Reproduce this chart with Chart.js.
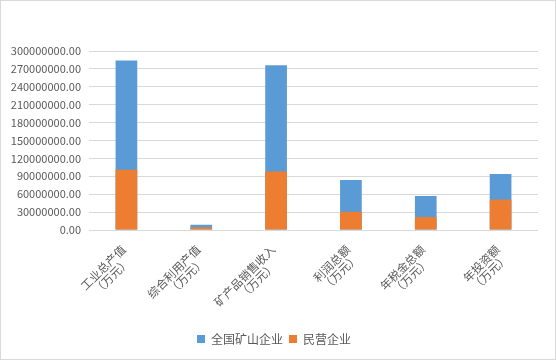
<!DOCTYPE html>
<html>
<head>
<meta charset="utf-8">
<script src="https://cdn.jsdelivr.net/npm/chart.js@4.4.0/dist/chart.umd.min.js"></script>
<style>
  html, body { margin: 0; padding: 0; background: #fff; }
  #wrap { position: relative; width: 554px; height: 358px; border: 1px solid #d9d9d9; }
</style>
</head>
<body>
<div id="wrap"><canvas id="chart"></canvas></div>
<script>
// categories (name + unit line)
const categories = ["工业总产值", "综合利用产值", "矿产品销售收入", "利润总额", "年税金总额", "年投资额"]
const unit = "（万元）"
// values
const allMines = [284000000, 8800000, 276000000, 84000000, 57000000, 94000000]
const privateFirms = [101000000, 4500000, 98000000, 30500000, 21700000, 51000000]

const yMax = 300000000
const yStep = 30000000

const fontFam = "'Noto Sans CJK SC', 'Noto Sans', sans-serif"

// two-line label, second line padded so it sits centred under the first
function twoLines(name) {
  let n = name.length - unit.length
  let pad = ""
  for (let i = 0; i < Math.floor(n / 2); i++) pad += "\u3000"
  if (n % 2 === 1) pad += "\u2002"
  return [name, unit + pad]
}

new Chart(document.getElementById("chart"), {
  type: 'bar',
  data: {
    labels: categories.map(twoLines),
    datasets: [{
      label: "全国矿山企业",
      data: allMines,
      backgroundColor: "#5b9bd5",
      order: 1,
      categoryPercentage: 0.29,
      barPercentage: 1
    }, {
      label: "民营企业",
      data: privateFirms,
      backgroundColor: "#ed7d31",
      order: 0,
      categoryPercentage: 0.29,
      barPercentage: 1
    }]
  },
  options: {
    responsive: true,
    maintainAspectRatio: false,
    animation: false,
    layout: { padding: { top: 50, right: 17, bottom: 4, left: 9 } },
    plugins: {
      tooltip: { enabled: false },
      legend: {
        position: 'bottom',
        reverse: true,
        labels: {
          boxWidth: 8,
          boxHeight: 8,
          color: '#595959',
          font: { family: fontFam, size: 12 },
          padding: 6
        }
      }
    },
    scales: {
      x: {
        stacked: true,
        grid: { display: false },
        border: { display: false },
        ticks: {
          color: '#595959',
          font: { family: fontFam, size: 11.5, lineHeight: 1.05 },
          maxRotation: 45,
          minRotation: 45,
          padding: 5,
          labelOffset: -3,
          autoSkip: false
        },
        afterFit: function(scale) { scale.height = 97 }
      },
      y: {
        stacked: false,
        min: 0,
        max: yMax,
        grid: { color: '#d9d9d9', lineWidth: 1, drawTicks: false },
        border: { display: false },
        ticks: {
          stepSize: yStep,
          padding: 8,
          color: '#595959',
          font: { family: fontFam, size: 11 },
          callback: function(v) { return Number(v).toFixed(2) }
        },
        afterFit: function(scale) { scale.width = 79 }
      }
    }
  }
})
</script>
</body>
</html>
